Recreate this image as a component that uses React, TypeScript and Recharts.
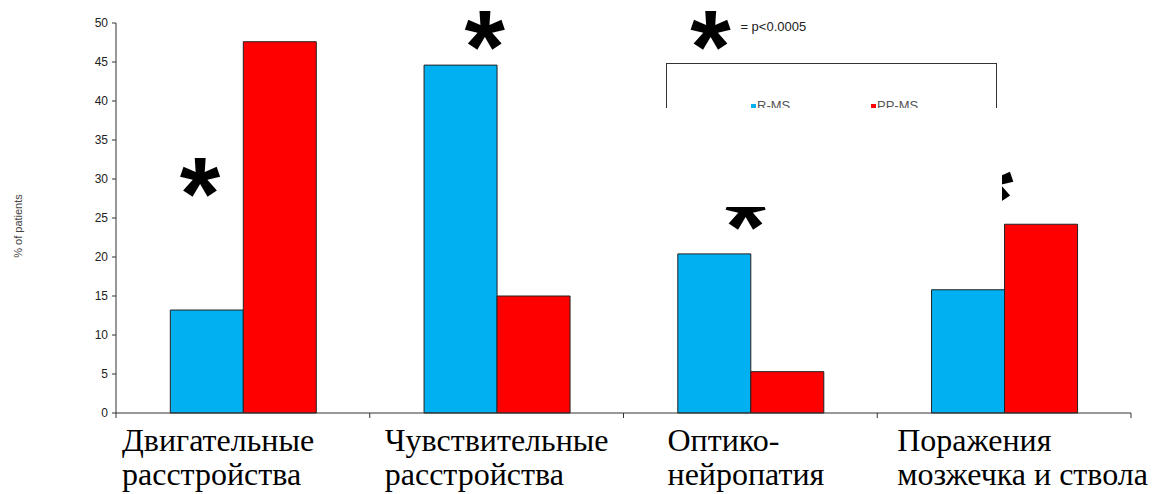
import React from "react";
import { BarChart, Bar, XAxis, YAxis, Legend, ReferenceDot } from "recharts";

// categories and values
const categories = [
  "Двигательные расстройства",
  "Чувствительные расстройства",
  "Оптико-нейропатия",
  "Поражения мозжечка и ствола",
];
const categoryLines = [
  ["Двигательные", "расстройства"],
  ["Чувствительные", "расстройства"],
  ["Оптико-", "нейропатия"],
  ["Поражения", "мозжечка и ствола"],
];
const rMs = [13.2, 44.6, 20.4, 15.8];
const ppMs = [47.6, 15.0, 5.3, 24.2];
const yTicks = [0, 5, 10, 15, 20, 25, 30, 35, 40, 45, 50];

// significance marks: category index + height in % units
const starCats = [0, 1, 2, 2, 3];
const starValues = [29.8, 48.7, 48.7, 25.6, 29.2];
const noteText = "= p<0.0005";

// layout only
const W = 1152;
const H = 494;
const PLOT_LEFT = 116;
const PLOT_RIGHT = 1131;
const BAND = (PLOT_RIGHT - PLOT_LEFT) / categories.length;
const labelShift = [6, 15, 44, 20];
const starShift = [-43, -12, -40, -5, -11];
const STAR_SIZE = 104;
const legendLeft: Record<string, number> = { "R-MS": 84, "PP-MS": 204 };

const data = categories.map((c, i) => ({ name: c, rms: rMs[i], ppms: ppMs[i] }));

function CategoryTick(props: any) {
  const { x, y, payload } = props;
  const i = categories.indexOf(payload.value);
  const left = x - BAND / 2;
  const tx = left + labelShift[i];
  return (
    <g>
      <line x1={left} x2={left} y1={y} y2={y + 5} stroke="#333" />
      {i === categories.length - 1 && (
        <line x1={x + BAND / 2} x2={x + BAND / 2} y1={y} y2={y + 5} stroke="#333" />
      )}
      <text
        x={tx}
        y={y + 38}
        fontFamily="'Liberation Serif', 'Times New Roman', serif"
        fontSize={32}
        fill="#000"
      >
        <tspan x={tx}>{categoryLines[i][0]}</tspan>
        <tspan x={tx} dy={34}>
          {categoryLines[i][1]}
        </tspan>
      </text>
    </g>
  );
}

function starShape(dx: number, withNote: boolean) {
  return (p: any) => (
    <g>
      <text
        x={p.cx + dx}
        y={p.cy + STAR_SIZE * 0.48}
        textAnchor="middle"
        fontFamily="'Liberation Sans', Arial, sans-serif"
        fontWeight="bold"
        fontSize={STAR_SIZE}
        fill="#000"
      >
        *
      </text>
      {withNote && (
        <text
          x={p.cx + dx + 30}
          y={p.cy - 2}
          fontFamily="'Liberation Sans', Arial, sans-serif"
          fontSize={13}
          fill="#222"
        >
          {noteText}
        </text>
      )}
    </g>
  );
}

function LegendBox(props: any) {
  const items = props.payload || [];
  return (
    <div
      style={{
        position: "relative",
        width: 331,
        height: 130,
        border: "1px solid #333",
        boxSizing: "border-box",
        background: "#fff",
      }}
    >
      {items.map((it: any) => (
        <div
          key={it.value}
          style={{
            position: "absolute",
            left: legendLeft[it.value] ?? 0,
            top: 35,
            display: "flex",
            alignItems: "flex-start",
            fontFamily: "'Liberation Sans', Arial, sans-serif",
            fontSize: 13,
            lineHeight: "13px",
            color: "#555",
          }}
        >
          <span
            style={{
              width: 5,
              height: 6,
              marginTop: 5,
              background: it.color,
              marginRight: 1,
              display: "inline-block",
            }}
          />
          {it.value}
        </div>
      ))}
    </div>
  );
}

export default function App() {
  return (
    <div style={{ position: "absolute", left: 0, top: 0, width: W, height: H, background: "#fff" }}>
      <BarChart
        width={W}
        height={H}
        data={data}
        margin={{ top: 23, right: W - PLOT_RIGHT, bottom: 0, left: 0 }}
        barCategoryGap="21.4%"
        barGap={0}
      >
        <XAxis
          dataKey="name"
          interval={0}
          height={81}
          tickLine={false}
          tickSize={0}
          tickMargin={0}
          axisLine={{ stroke: "#333" }}
          tick={<CategoryTick />}
        />
        <YAxis
          width={PLOT_LEFT}
          domain={[0, 50]}
          ticks={yTicks}
          interval={0}
          tickSize={4}
          tickMargin={4}
          axisLine={{ stroke: "#333" }}
          tickLine={{ stroke: "#333" }}
          tick={{ fontSize: 12, fill: "#222", fontFamily: "'Liberation Sans', Arial, sans-serif" }}
          label={{
            value: "% of patients",
            angle: -90,
            position: "insideLeft",
            offset: 18,
            dy: 8,
            style: { fontSize: 11, fill: "#444", fontFamily: "'Liberation Sans', Arial, sans-serif", textAnchor: "middle" },
          }}
        />
        <Legend
          layout="horizontal"
          verticalAlign="middle"
          align="center"
          wrapperStyle={{ left: 666, top: 63, width: 331 }}
          content={<LegendBox />}
        />
        <Bar dataKey="rms" name="R-MS" fill="#00B0F0" stroke="#222" strokeWidth={1} isAnimationActive={false} />
        <Bar dataKey="ppms" name="PP-MS" fill="#FF0000" stroke="#222" strokeWidth={1} isAnimationActive={false} />
        {starValues.map((v, i) => (
          <ReferenceDot
            key={i}
            x={categories[starCats[i]]}
            y={v}
            r={0}
            ifOverflow="visible"
            shape={starShape(starShift[i], i === 2)}
          />
        ))}
      </BarChart>
      <div
        style={{
          position: "absolute",
          left: 640,
          top: 108,
          width: 362,
          height: 99,
          background: "#fff",
        }}
      />
    </div>
  );
}
